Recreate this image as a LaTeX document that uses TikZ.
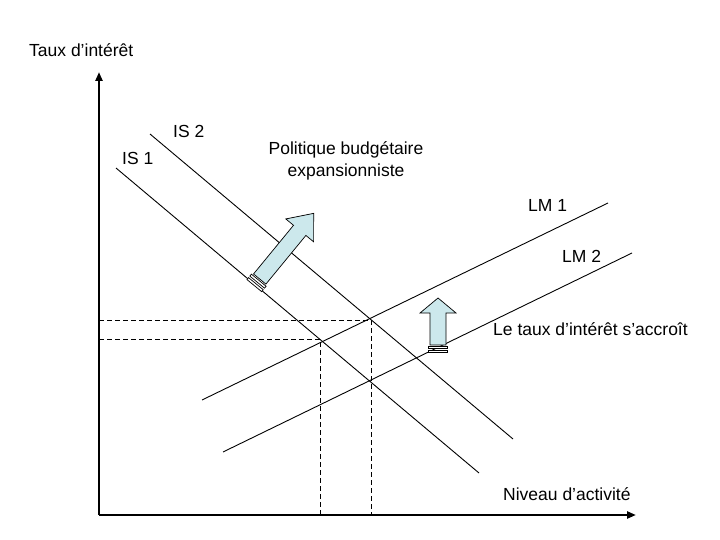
\documentclass[tikz,border=0pt]{standalone}
\usepackage{fontspec}
\setmainfont{Liberation Sans}
\usetikzlibrary{arrows.meta}
\definecolor{arrfill}{RGB}{204,232,236}
\begin{document}
\begin{tikzpicture}[x=1pt,y=-1pt,
  curve/.style={line width=0.9pt},
  axisline/.style={line width=2.2pt,-{Triangle[length=9pt,width=7pt]}},
  guide/.style={line width=0.9pt,dash pattern=on 5pt off 3pt},
  lbl/.style={font=\fontsize{17.5}{20}\selectfont,inner sep=0pt},
  fat/.style={draw=black,line width=0.7pt,fill=arrfill,line join=miter},
  stripe/.style={draw=black,line width=0.7pt,fill=white}]
\useasboundingbox (0,0) rectangle (720,540);
% axes
\coordinate (O) at (99,515);
\coordinate (Ytop) at (99,72);
\coordinate (Xend) at (636,515);
\draw[axisline] (O) -- (Ytop);
\draw[axisline] (O) -- (Xend);
% IS curves
\coordinate (is1a) at (116,168); \coordinate (is1b) at (479,473);
\coordinate (is2a) at (150,134); \coordinate (is2b) at (513,439);
\draw[curve] (is1a) -- (is1b);
\draw[curve] (is2a) -- (is2b);
% LM curves
\coordinate (lm1a) at (202,400); \coordinate (lm1b) at (608,203);
\coordinate (lm2a) at (223,452); \coordinate (lm2b) at (632,253);
\draw[curve] (lm1a) -- (lm1b);
\draw[curve] (lm2a) -- (lm2b);
% equilibria guides
\coordinate (E1) at (320,339);
\coordinate (E2) at (371,320);
\coordinate (E1y) at (99,339); \coordinate (E1x) at (320,515);
\coordinate (E2y) at (99,320); \coordinate (E2x) at (371,515);
\draw[guide] (E2y) -- (E2) -- (E2x);
\draw[guide] (E1y) -- (E1) -- (E1x);
% diagonal block arrow
\begin{scope}[shift={(254,286)},rotate=50.6]
  \draw[fat] (9,-8) -- (72,-8) -- (72,-18) -- (94,0) -- (72,18) -- (72,8) -- (9,8) -- cycle;
  \draw[stripe] (5,-9.5) rectangle (7.5,9.5);
  \draw[stripe] (0.5,-9.5) rectangle (3,9.5);
\end{scope}
% vertical block arrow
\begin{scope}[shift={(438,353)},rotate=90]
  \draw[fat] (8,-8) -- (40,-8) -- (40,-18) -- (55,0) -- (40,18) -- (40,8) -- (8,8) -- cycle;
  \draw[stripe] (4.5,-9.5) rectangle (6.5,9.5);
  \draw[stripe] (0.5,-9.5) rectangle (3,9.5);
\end{scope}
% labels
\node[lbl,anchor=west] (ty) at (29,50) {Taux d’intérêt};
\node[lbl,anchor=west] (is2) at (173,131) {IS 2};
\node[lbl,anchor=west] (is1) at (122,158) {IS 1};
\node[lbl,align=center] (pol) at (346,160.5) {Politique budgétaire\\[2pt]expansionniste};
\node[lbl,anchor=west] (lm1) at (528,205) {LM 1};
\node[lbl,anchor=west] (lm2) at (562,256) {LM 2};
\node[lbl,anchor=west] (acc) at (493,329) {Le taux d’intérêt s’accroît};
\node[lbl,anchor=west] (niv) at (503,494) {Niveau d’activité};
\end{tikzpicture}
\end{document}
